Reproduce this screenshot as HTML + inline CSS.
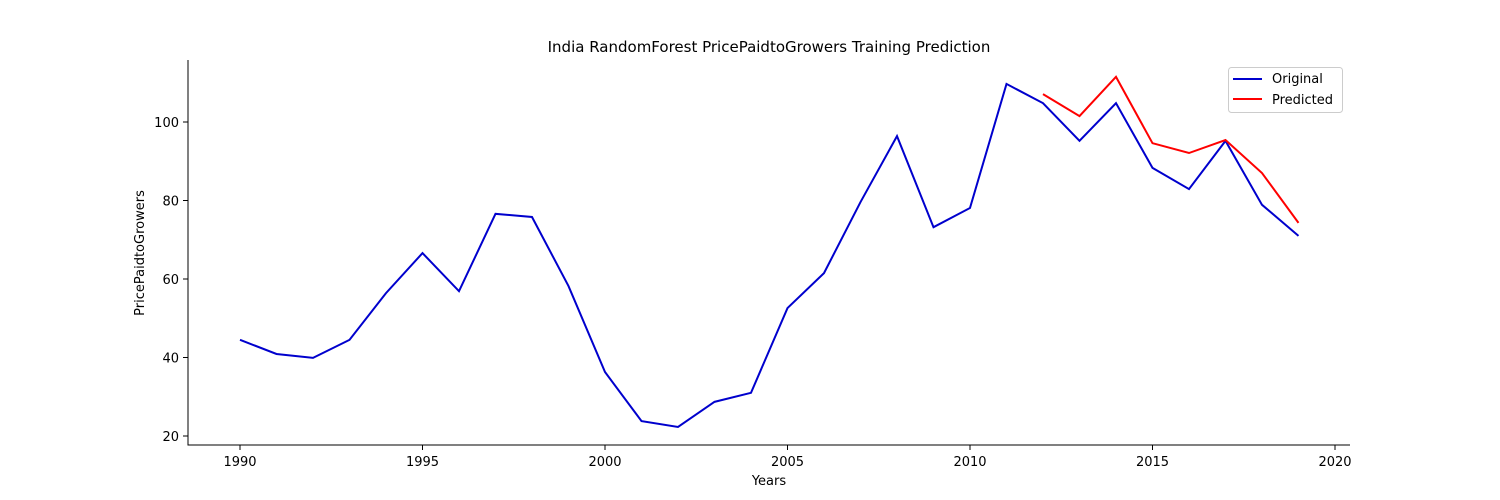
<!DOCTYPE html>
<html><head><meta charset="utf-8"><style>
html,body{margin:0;padding:0;background:#fff;}
svg{display:block;font-family:"DejaVu Sans","Liberation Sans",sans-serif;}
</style></head><body>
<svg id="chart" width="1500" height="500"></svg>
<script>
const years = [1990,1991,1992,1993,1994,1995,1996,1997,1998,1999,2000,2001,2002,2003,2004,2005,2006,2007,2008,2009,2010,2011,2012,2013,2014,2015,2016,2017,2018,2019];
const original = [44.5,40.9,39.9,44.5,56.4,66.6,56.9,76.6,75.8,58.2,36.3,23.8,22.3,28.7,31.0,52.6,61.5,79.6,96.4,73.2,78.1,109.7,104.8,95.2,104.8,88.3,82.9,95.2,78.9,71.0];
const predYears = [2012,2013,2014,2015,2016,2017,2018,2019];
const predicted = [107.1,101.5,111.5,94.6,92.1,95.4,87.0,74.3];
const xTicks = [1990,1995,2000,2005,2010,2015,2020];
const yTicks = [20,40,60,80,100];

const NS='http://www.w3.org/2000/svg';
const svg=document.getElementById('chart');
const X=v=>240+(v-1990)*36.5;
const Y=v=>436-(v-20)*3.925;
function mk(tag,attrs,parent){const e=document.createElementNS(NS,tag);for(const k in attrs)e.setAttribute(k,attrs[k]);(parent||svg).appendChild(e);return e;}

const t=mk('text',{x:769,y:52,'text-anchor':'middle','font-size':15,fill:'#000'});


t.textContent='India RandomForest PricePaidtoGrowers Training Prediction';

const ax=mk('path',{d:'M188 60 V445 H1350',stroke:'#000','stroke-width':1,fill:'none'});



xTicks.forEach(v=>{
  const g=mk('g',{});
  
  
  mk('line',{x1:X(v),x2:X(v),y1:445,y2:450,stroke:'#000'},g);
  const tx=mk('text',{x:X(v),y:466,'text-anchor':'middle','font-size':13},g);tx.textContent=v;
});
yTicks.forEach(v=>{
  const g=mk('g',{});
  
  
  mk('line',{x1:183,x2:188,y1:Y(v),y2:Y(v),stroke:'#000'},g);
  const tx=mk('text',{x:179,y:Y(v)+5,'text-anchor':'end','font-size':13},g);tx.textContent=v;
});
const xl=mk('text',{x:769,y:485,'text-anchor':'middle','font-size':13});


xl.textContent='Years';
const yl=mk('text',{x:144,y:253,'text-anchor':'middle','font-size':13,transform:'rotate(-90 144 253)'});


yl.textContent='PricePaidtoGrowers';

const l1=mk('polyline',{points:years.map((y,i)=>X(y)+','+Y(original[i])).join(' '),fill:'none',stroke:'#0000cd','stroke-width':2});


const l2=mk('polyline',{points:predYears.map((y,i)=>X(y)+','+Y(predicted[i])).join(' '),fill:'none',stroke:'#ff0000','stroke-width':2});



const lg=mk('g',{});


mk('rect',{x:1228.5,y:67.5,width:114,height:45,rx:3,fill:'#fff',stroke:'#ccc'},lg);
mk('line',{x1:1233,x2:1262,y1:79,y2:79,stroke:'#0000cd','stroke-width':2},lg);
const e1=mk('text',{x:1272,y:83,'font-size':13},lg);e1.textContent='Original';
mk('line',{x1:1233,x2:1262,y1:99,y2:99,stroke:'#ff0000','stroke-width':2},lg);
const e2=mk('text',{x:1272,y:104,'font-size':13},lg);e2.textContent='Predicted';
</script>
</body></html>
